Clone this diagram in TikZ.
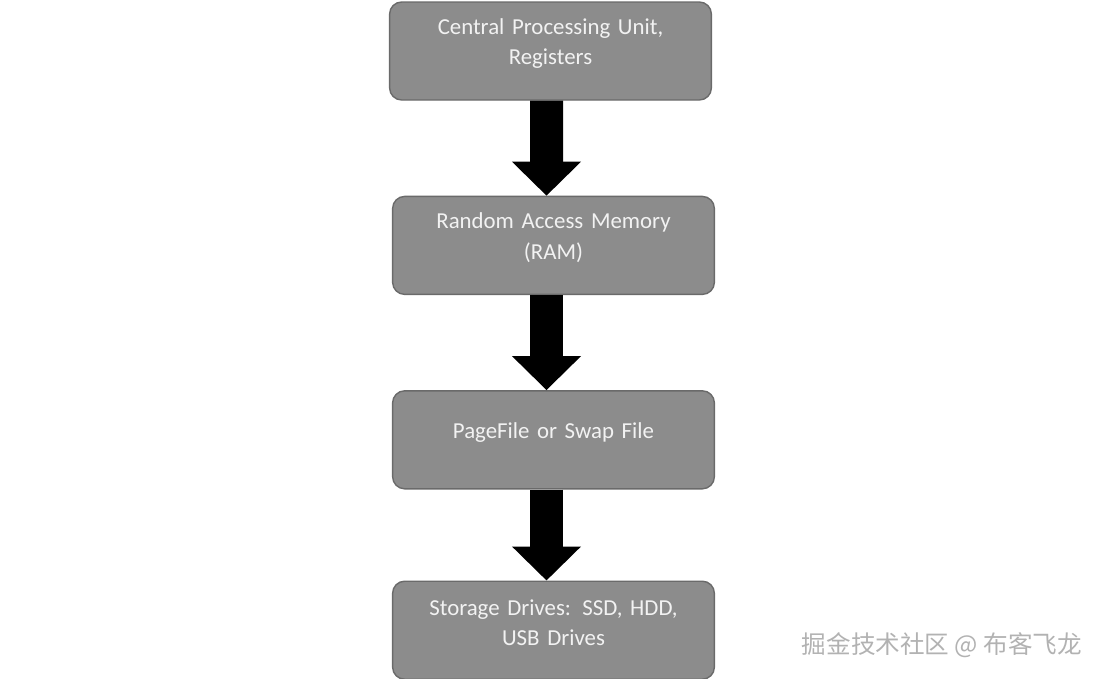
\documentclass[tikz,border=0pt]{standalone}
\usepackage{fontspec}
\setmainfont{Carlito}
\newfontfamily\cjk{Noto Sans CJK SC}
\usetikzlibrary{arrows.meta, positioning}
\definecolor{boxgray}{HTML}{8C8C8C}
\definecolor{boxline}{HTML}{6A6A6A}
\definecolor{boxtext}{HTML}{F2F2F2}

\begin{document}
\begin{tikzpicture}[
    font          = \fontsize{13}{17.6}\selectfont,
    mem/.style    = {draw=boxline, line width=0.8pt, fill=boxgray,
                     rounded corners=0.24cm, minimum width=6.42cm,
                     minimum height=1.96cm, text width=6.2cm,
                     align=center, text=boxtext,
                     execute at end node={\endgraf\vspace{0.3cm}}},
    arr/.style    = {line width=0.66cm, black,
                     -{Triangle[length=0.68cm, width=1.34cm]}},
  ]
  \useasboundingbox (0,0) rectangle (22.1,-13.56);
  \node[mem] (cpu) at (11.01,-1.02) {Central Processing Unit,\\Registers};
  \node[mem, below=1.9cm of cpu, xshift=0.06cm] (ram) {Random Access Memory\\(RAM)};
  \node[mem, below=1.9cm of ram] (page) {PageFile or Swap File};
  \node[mem, below=1.82cm of page] (disk) {Storage Drives: SSD, HDD,\\USB Drives};
  \draw[arr] ([xshift=-0.08cm]cpu.south) -- ([xshift=-0.14cm]ram.north);
  \draw[arr] ([xshift=-0.14cm]ram.south) -- ([xshift=-0.14cm]page.north);
  \draw[arr] ([xshift=-0.14cm]page.south) -- ([xshift=-0.14cm]disk.north);
  % site mark in the corner
  \node[font=\cjk\fontsize{14}{16}\selectfont, text=gray!60] (mark)
        at (18.84,-12.9) {掘金技术社区 @ 布客飞龙};
\end{tikzpicture}
\end{document}
